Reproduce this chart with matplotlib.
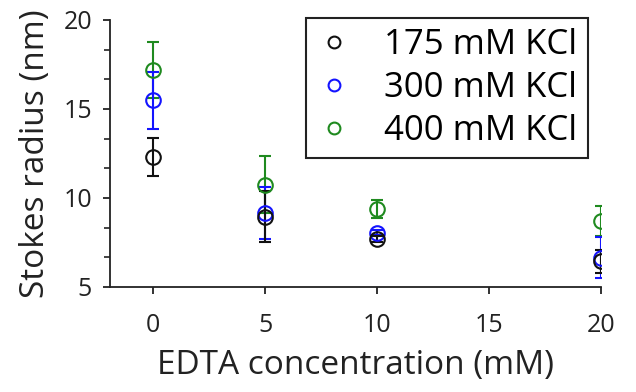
import matplotlib
matplotlib.use('Agg')
import matplotlib.pyplot as plt
from matplotlib.ticker import MultipleLocator
from matplotlib.lines import Line2D

# data
edta = [0, 5, 10, 20]
labels = ['175 mM KCl', '300 mM KCl', '400 mM KCl']
r_175 = [12.3, 8.95, 7.7, 6.45]
e_175 = [1.05, 1.45, 0.15, 0.65]
r_300 = [15.5, 9.15, 8.05, 6.65]
e_300 = [1.6, 1.45, 0.15, 1.15]
r_400 = [17.2, 10.75, 9.4, 8.7]
e_400 = [1.58, 1.6, 0.5, 0.85]
colors = ['#111111', '#1414ff', '#1f8a1f']

plt.rcParams['font.family'] = ['Open Sans', 'DejaVu Sans']

fig = plt.figure(figsize=(6.36, 3.92), dpi=100)
ax = fig.add_axes([0.173, 0.268, 0.772, 0.681])

# draw 400 first, 175 last (on top)
series = [(r_400, e_400, colors[2]),
          (r_300, e_300, colors[1]),
          (r_175, e_175, colors[0])]
for vals, errs, col in series:
	ax.errorbar(edta, vals, yerr=errs, fmt='o', mfc='none', mec=col, ecolor=col,
		ms=10.5, mew=1.5, elinewidth=1.5, capsize=4.2, capthick=1.5)

ax.set_xlim(-1.92, 20)
ax.set_ylim(5, 20)
ax.set_xticks([0, 5, 10, 15, 20])
ax.set_yticks([5, 10, 15, 20])
ax.yaxis.set_minor_locator(MultipleLocator(5/3))
for s in ['top', 'right']:
	ax.spines[s].set_visible(False)
for s in ['left', 'bottom']:
	ax.spines[s].set_linewidth(1.3)
	ax.spines[s].set_color('#222222')
ax.tick_params(axis='both', which='major', labelsize=18, length=5, width=1.3, colors='#222222')
ax.tick_params(axis='y', which='minor', length=4, width=1.2, colors='#222222')
ax.tick_params(axis='x', pad=14)
ax.tick_params(axis='y', which='major', pad=8)

ax.set_xlabel('EDTA concentration (mM)', fontsize=24, labelpad=8, color='#222222')
ax.set_ylabel('Stokes radius (nm)', fontsize=24, labelpad=8, color='#222222')

# legend shows only the open circles
handles = [Line2D([], [], ls='none', marker='o', ms=8.5, mfc='none', mec=c, mew=1.5) for c in colors]
leg = ax.legend(handles, labels, loc='upper left',
	bbox_to_anchor=(306/636, 1 - 18/392), bbox_transform=fig.transFigure,
	fontsize=25, frameon=True, fancybox=False, edgecolor='#222222',
	handletextpad=0.95, labelspacing=0.25, borderpad=0.3,
	handlelength=1.0, borderaxespad=0)
leg.get_frame().set_linewidth(1.5)
leg.get_frame().set_alpha(1)

plt.savefig('out.png', dpi=100)
